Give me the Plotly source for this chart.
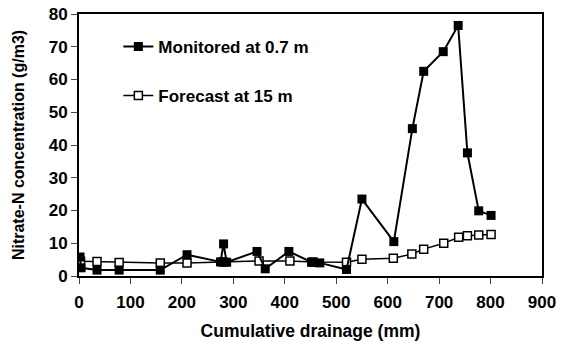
import plotly.graph_objects as go

mon_x = [2, 4, 35, 78, 158, 210, 275, 281, 287, 346, 362, 408, 452, 468, 520, 550, 612, 648, 670, 708, 737, 755, 777, 801]
mon_y = [5.8, 2.5, 1.8, 1.8, 1.8, 6.5, 4.3, 9.8, 4.2, 7.5, 2.2, 7.5, 4.2, 4.0, 2.0, 23.5, 10.5, 45, 62.5, 68.5, 76.5, 37.6, 19.9, 18.5]

fc_x = [3, 35, 78, 158, 210, 280, 350, 410, 455, 520, 550, 611, 647, 670, 709, 738, 755, 777, 801]
fc_y = [4.5, 4.4, 4.1, 4.0, 4.0, 4.3, 4.6, 4.6, 4.3, 4.2, 5.1, 5.4, 6.7, 8.2, 10.0, 11.8, 12.3, 12.5, 12.7]

x_ticks = list(range(0, 901, 100))
y_ticks = list(range(0, 81, 10))

FONT = "Liberation Sans, Arial, sans-serif"

fig = go.Figure()
fig.add_trace(go.Scatter(
    x=fc_x, y=fc_y, mode="lines+markers", name="Forecast at 15 m",
    line=dict(color="black", width=1.5),
    marker=dict(symbol="square", size=8, color="white", line=dict(color="black", width=1.5)),
    legendgroup="b", legendrank=2,
))
fig.add_trace(go.Scatter(
    x=mon_x, y=mon_y, mode="lines+markers", name="Monitored at 0.7 m",
    line=dict(color="black", width=2),
    marker=dict(symbol="square", size=9, color="black"),
    legendgroup="a", legendrank=1,
))

fig.update_layout(
    width=568, height=348,
    margin=dict(l=79, r=26, t=14, b=72),
    paper_bgcolor="white", plot_bgcolor="white",
    font=dict(family=FONT, size=17, color="black", weight="bold"),
    showlegend=True,
    legend=dict(x=0.085, y=0.943, xanchor="left", yanchor="top",
                bgcolor="rgba(0,0,0,0)", tracegroupgap=24,
                traceorder="grouped", font=dict(size=17, weight="bold"), itemwidth=30),
    xaxis=dict(range=[0, 900], tickvals=x_ticks, ticks="outside", ticklen=6,
               showline=True, linecolor="black", linewidth=2, mirror=True,
               showgrid=False, zeroline=False, automargin=False,
               ticklabelstandoff=4,
               tickfont=dict(size=17, weight="bold"),
               title=dict(text="Cumulative drainage (mm)", font=dict(size=17.5, weight="bold"), standoff=13)),
    yaxis=dict(range=[0, 80], tickvals=y_ticks, ticks="outside", ticklen=6,
               showline=True, linecolor="black", linewidth=2, mirror=True,
               showgrid=False, zeroline=False, automargin=False,
               tickfont=dict(size=17, weight="bold"),
               title=dict(text="Nitrate-N concentration (g/m3)", font=dict(size=16, weight="bold"), standoff=20)),
)

fig.write_html("out.html", config={"displayModeBar": False},
               post_script="document.body.style.margin='0';")
